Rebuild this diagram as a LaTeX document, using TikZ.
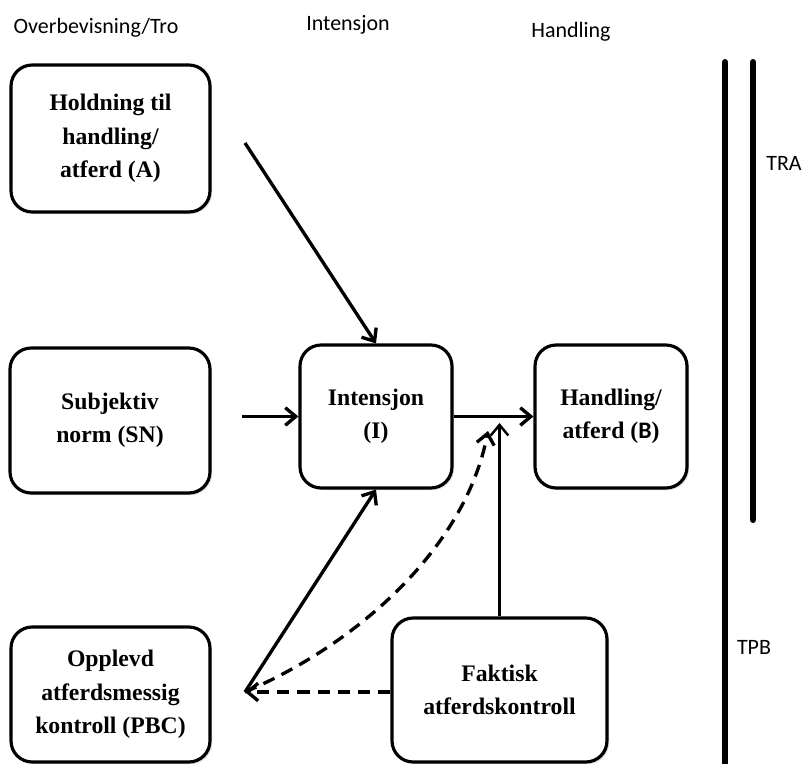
\documentclass[tikz,border=0pt]{standalone}
\usepackage{fontspec}
\newfontfamily\headfont{Carlito}
\newfontfamily\boxfont{Liberation Serif}
\usetikzlibrary{arrows.meta, shadows}

\tikzset{
  box/.style={draw, line width=1.8pt, rounded corners=12pt, align=center, inner sep=0pt, fill=white,
    drop shadow={opacity=0.25, shadow xshift=1.2pt, shadow yshift=-1.2pt},
    font=\boxfont\fontsize{13.5}{19}\selectfont\bfseries},
  head/.style={font=\headfont\fontsize{12.5}{15}\selectfont},
  arr/.style={line width=1.9pt, -{Straight Barb[length=6pt,width=10pt]}},
  dasharr/.style={arr, dash pattern=on 7pt off 4.5pt},
}

\begin{document}
\begin{tikzpicture}[x=0.02cm, y=-0.02cm]
  \useasboundingbox (0, 0) rectangle (803, 763);

  % column headings
  \node[head] (hbelief) at (96, 28) {Overbevisning/Tro};
  \node[head] (hintent) at (348, 25) {Intensjon};
  \node[head] (hact) at (571, 32) {Handling};

  % boxes
  \node[box, minimum width=3.98cm, minimum height=2.94cm] (A) at (110.5, 138.5) {Holdning til\\handling/\\atferd (A)};
  \node[box, minimum width=4cm, minimum height=2.9cm] (SN) at (110, 420.5) {Subjektiv\\norm (SN)};
  \node[box, minimum width=3.98cm, minimum height=2.7cm] (PBC) at (110.5, 694.5) {Opplevd\\atferdsmessig\\kontroll (PBC)};
  \node[box, minimum width=3.04cm, minimum height=2.86cm] (I) at (376, 416.5) {Intensjon\\(I)};
  \node[box, minimum width=3.04cm, minimum height=2.86cm] (B) at (611, 416.5) {Handling/\\atferd ({\headfont\bfseries B})};
  \node[box, minimum width=4.3cm, minimum height=2.88cm] (F) at (499.5, 690) {Faktisk\\atferdskontroll};

  % free ends of the arrows
  \coordinate (a0) at (245, 143);
  \coordinate (sn0) at (242, 416.5);
  \coordinate (p0) at (245, 692);
  \coordinate (j0) at (499.5, 423);
  \coordinate (j1) at (488, 431);

  % arrows
  \draw[arr] (a0) -- (I.north);
  \draw[arr] (sn0) -- (I.west);
  \draw[arr] (I) -- (B);
  \draw[arr] (p0) -- (I.south);
  \draw[arr, line width=1.4pt] (F.north) -- (j0);
  \draw[dasharr] (F.west |- p0) -- (p0);
  \draw[dasharr] (p0) .. controls (355, 645) and (465, 550) .. (j1);

  % theory bars
  \foreach \x / \ybot in {725/766, 753/520}{
    \draw[line width=3.4pt, line cap=round] (\x, 62) -- (\x, \ybot);
  }
  \node[head] (tra) at (784, 163) {TRA};
  \node[head] (tpb) at (754, 647) {TPB};
\end{tikzpicture}
\end{document}
